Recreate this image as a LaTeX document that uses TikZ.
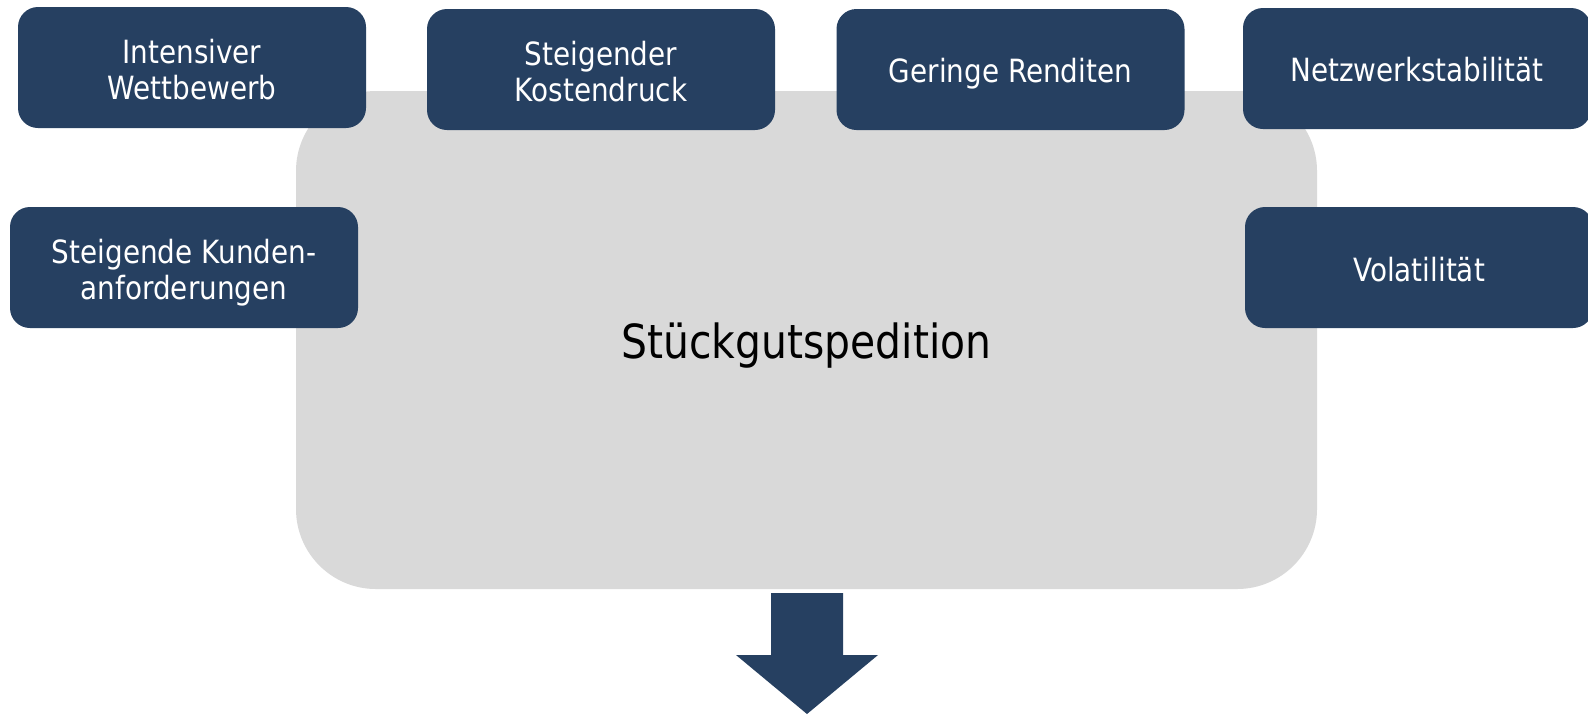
\documentclass[tikz,border=0pt]{standalone}
\usepackage{fontspec}
\setmainfont{DejaVu Sans}[FakeStretch=0.87]
\definecolor{navy}{HTML}{264061}
\definecolor{lgray}{HTML}{D9D9D9}
\begin{document}
\begin{tikzpicture}[x=0.5pt,y=-0.5pt,
  factor/.style={fill=navy, rounded corners=10pt, inner sep=0pt,
    minimum width=174pt, minimum height=60.5pt},
  lbl/.style={text=white, inner sep=0pt, align=center,
    font=\fontsize{16}{18}\selectfont},
  core/.style={fill=lgray, rounded corners=40pt, inner sep=0pt,
    minimum width=510.5pt, minimum height=249pt},
  title/.style={inner sep=0pt, font=\fontsize{23.5}{28}\selectfont}]
\useasboundingbox[fill=white] (0,0) rectangle (1588,714);
\node[core] (main) at (806.5,340) {};
\node[title, yshift=-3pt] (t0) at (main.center) {Stückgutspedition};
\node[factor] (b1) at (192,67.5) {};
\node[factor] (b2) at (601,69.5) {};
\node[factor] (b3) at (1010.5,69.5) {};
\node[factor] (b4) at (1417,68.5) {};
\node[factor] (b5) at (184,267.5) {};
\node[factor] (b6) at (1419,267.5) {};
\node[lbl, yshift=-1pt] (t1) at (b1.center) {Intensiver\\Wettbewerb};
\node[lbl, yshift=-1pt] (t2) at (b2.center) {Steigender\\Kostendruck};
\node[lbl, yshift=-2pt] (t3) at (b3.center) {Geringe Renditen};
\node[lbl, yshift=-0.5pt] (t4) at (b4.center) {Netzwerkstabilität};
\node[lbl, yshift=-2.5pt] (t5) at (b5.center) {Steigende Kunden-\\anforderungen};
\node[lbl, yshift=-1pt] (t6) at (b6.center) {Volatilität};
\fill[navy] (771,593) -- (843,593) -- (843,655) -- (878,655) -- (807,714)
  -- (736,655) -- (771,655) -- cycle;
\end{tikzpicture}
\end{document}
